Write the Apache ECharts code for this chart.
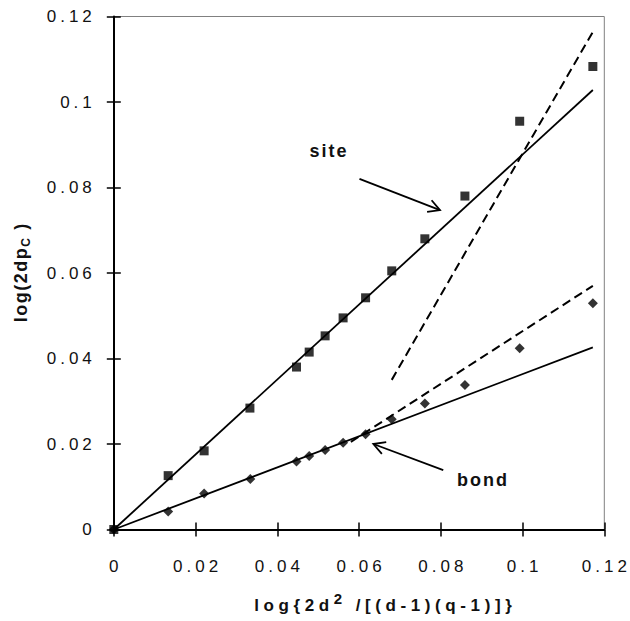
<!DOCTYPE html>
<html>
<head>
<meta charset="utf-8">
<script src="https://cdn.jsdelivr.net/npm/echarts@6/dist/echarts.min.js"></script>
<style>html,body{margin:0;padding:0;background:#fff}#c{width:630px;height:621px}</style>
</head>
<body>
<div id="c"></div>
<script>
// ---- data ----
const xTickLabels = ['0', '0.02', '0.04', '0.06', '0.08', '0.1', '0.12'];
const yTickLabels = ['0', '0.02', '0.04', '0.06', '0.08', '0.1', '0.12'];

const siteX = [0, 0.0133, 0.0221, 0.0333, 0.0447, 0.0478, 0.0517, 0.0561, 0.0616, 0.0680, 0.0761, 0.0859, 0.0993, 0.1172];
const siteY = [0, 0.0126, 0.0184, 0.0284, 0.0380, 0.0415, 0.0453, 0.0495, 0.0542, 0.0605, 0.0680, 0.0780, 0.0955, 0.1083];

const bondX = [0, 0.0133, 0.0221, 0.0334, 0.0447, 0.0478, 0.0517, 0.0561, 0.0616, 0.0680, 0.0761, 0.0859, 0.0993, 0.1172];
const bondY = [0, 0.0042, 0.0084, 0.0118, 0.0159, 0.0172, 0.0186, 0.0203, 0.0223, 0.0258, 0.0295, 0.0338, 0.0424, 0.0529];

const siteFitX = [0, 0.1172];
const siteFitY = [0, 0.1028];
const bondFitX = [0, 0.1172];
const bondFitY = [0, 0.0426];
const siteDashX = [0.0680, 0.1172];
const siteDashY = [0.0350, 0.1164];
const bondDashX = [0.0580, 0.1172];
const bondDashY = [0.0205, 0.0570];

// annotation arrows: tail (x1,y1) -> head (x2,y2), with label text
const arrowLabels = ['site', 'bond'];
const arrowX1 = [0.0601, 0.0806];
const arrowY1 = [0.0820, 0.0139];
const arrowX2 = [0.0798, 0.0635];
const arrowY2 = [0.0747, 0.0200];
const labelX = [0.0524, 0.0901];
const labelY = [0.0885, 0.0116];

// ---- build ----
const zip = (a, b) => a.map((v, i) => [v, b[i]]);
const FAMILY = 'Liberation Sans, Arial, Helvetica, sans-serif';

// letter spacing (tracking) per text, applied to the SVG text nodes after render
const spacing = {};
xTickLabels.concat(yTickLabels).forEach(t => { spacing[t] = 4; });
arrowLabels.forEach(t => { spacing[t] = 2; });

const mctx = document.createElement('canvas').getContext('2d');
function measure(str, size, sp) {
  mctx.font = 'bold ' + size + 'px ' + FAMILY;
  return mctx.measureText(str).width + sp * str.length;
}

// build a tracked, multi-piece title as a graphic group
function trackedTitle(pieces, cx, cy, rotation) {
  let total = 0;
  const w = pieces.map(p => {
    const ww = p.gap != null ? p.gap : measure(p.t, p.size, p.sp);
    total += ww;
    return ww;
  });
  total -= pieces[pieces.length - 1].sp || 0;
  let x = -total / 2;
  const children = [];
  pieces.forEach((p, i) => {
    if (p.t) {
      spacing[p.t] = p.sp;
      children.push({
        type: 'text', x: x, y: p.dy || 0,
        style: {text: p.t, font: 'bold ' + p.size + 'px ' + FAMILY, fill: '#111', align: 'left', verticalAlign: 'middle'}
      });
    }
    x += w[i];
  });
  return {type: 'group', x: cx, y: cy, rotation: rotation || 0, children: children};
}

const xTitle = trackedTitle([
  {t: 'log{2d', size: 17, sp: 4.6},
  {t: '2', size: 15, sp: 4.6, dy: -7},
  {gap: 9},
  {t: '/[(d-1)(q-1)]}', size: 17, sp: 4.6}
], 383, 605, 0);

const yTitle = trackedTitle([
  {t: 'log(2dp', size: 18, sp: 1.5},
  {t: 'C', size: 12, sp: 1.5, dy: 5},
  {gap: 7},
  {t: ')', size: 18, sp: 1.5}
], 21, 273, Math.PI / 2);

const chart = echarts.init(document.getElementById('c'), null, {renderer: 'svg'});

const arrowData = arrowLabels.map((t, i) => [arrowX1[i], arrowY1[i], arrowX2[i], arrowY2[i], labelX[i], labelY[i]]);

const baseAxis = {
  type: 'value', min: 0, max: 0.12, interval: 0.02,
  splitLine: {show: false}
};

const option = {
  backgroundColor: '#fff',
  animation: false,
  grid: {
    left: 113.8, right: 25.7, top: 16.5, bottom: 91.5,
    show: true, borderColor: '#808080', borderWidth: 1, backgroundColor: 'transparent'
  },
  xAxis: [
    Object.assign({}, baseAxis, {
      position: 'bottom',
      axisLine: {show: true, onZero: false, lineStyle: {color: '#000', width: 2}},
      axisTick: {show: true, length: 7, inside: false, lineStyle: {color: '#000', width: 1.5}},
      axisLabel: {
        margin: 28, fontSize: 17, color: '#111', fontFamily: FAMILY,
        formatter: v => xTickLabels[Math.round(v / 0.02)]
      }
    }),
    Object.assign({}, baseAxis, {
      position: 'bottom',
      axisLine: {show: false},
      axisTick: {show: true, length: 7, inside: true, lineStyle: {color: '#000', width: 1.5}},
      axisLabel: {show: false}
    })
  ],
  yAxis: [
    Object.assign({}, baseAxis, {
      position: 'left',
      axisLine: {show: true, onZero: false, lineStyle: {color: '#000', width: 2}},
      axisTick: {show: true, length: 7, inside: false, lineStyle: {color: '#000', width: 1.5}},
      axisLabel: {
        margin: 22, fontSize: 17, color: '#111', fontFamily: FAMILY,
        formatter: v => yTickLabels[Math.round(v / 0.02)]
      }
    }),
    Object.assign({}, baseAxis, {
      position: 'left',
      axisLine: {show: false},
      axisTick: {show: true, length: 7, inside: true, lineStyle: {color: '#000', width: 1.5}},
      axisLabel: {show: false}
    })
  ],
  graphic: [yTitle, xTitle],
  series: [
    {
      type: 'line', name: 'site fit', data: zip(siteFitX, siteFitY),
      symbol: 'none', lineStyle: {color: '#000', width: 1.8}, z: 3
    },
    {
      type: 'line', name: 'bond fit', data: zip(bondFitX, bondFitY),
      symbol: 'none', lineStyle: {color: '#000', width: 1.8}, z: 3
    },
    {
      type: 'line', name: 'site dashed', data: zip(siteDashX, siteDashY),
      symbol: 'none', lineStyle: {color: '#000', width: 2, type: [9, 5]}, z: 3
    },
    {
      type: 'line', name: 'bond dashed', data: zip(bondDashX, bondDashY),
      symbol: 'none', lineStyle: {color: '#000', width: 2, type: [9, 5]}, z: 3
    },
    {
      type: 'scatter', name: 'site', data: zip(siteX, siteY),
      symbol: 'rect', symbolSize: 9, itemStyle: {color: '#000'}, z: 4
    },
    {
      type: 'scatter', name: 'bond', data: zip(bondX, bondY),
      symbol: 'diamond', symbolSize: 10, itemStyle: {color: '#000'}, z: 4
    },
    {
      type: 'custom', name: 'arrows', data: arrowData,
      encode: {x: [0, 2], y: [1, 3]},
      z: 5,
      renderItem: function (params, api) {
        const p1 = api.coord([api.value(0), api.value(1)]);
        const p2 = api.coord([api.value(2), api.value(3)]);
        const lp = api.coord([api.value(4), api.value(5)]);
        const ang = Math.atan2(p2[1] - p1[1], p2[0] - p1[0]);
        const L = 13, a = 0.5;
        const h1 = [p2[0] - L * Math.cos(ang - a), p2[1] - L * Math.sin(ang - a)];
        const h2 = [p2[0] - L * Math.cos(ang + a), p2[1] - L * Math.sin(ang + a)];
        const txt = arrowLabels[params.dataIndex];
        return {
          type: 'group',
          children: [
            {type: 'line', shape: {x1: p1[0], y1: p1[1], x2: p2[0], y2: p2[1]}, style: {stroke: '#000', lineWidth: 1.8}},
            {type: 'polyline', shape: {points: [h1, p2, h2]}, style: {stroke: '#000', lineWidth: 1.8, fill: null}},
            {type: 'text', x: lp[0], y: lp[1], style: {text: txt, font: 'bold 18px ' + FAMILY, fill: '#111', align: 'center', verticalAlign: 'middle'}}
          ]
        };
      }
    }
  ]
};

chart.setOption(option);

function applyTracking() {
  document.querySelectorAll('#c svg text').forEach(el => {
    const t = el.textContent;
    const sp = spacing[t];
    if (sp == null) return;
    el.setAttribute('letter-spacing', sp + 'px');
    const anchor = el.getAttribute('text-anchor') || getComputedStyle(el).textAnchor;
    if (anchor === 'end') el.setAttribute('dx', sp);
    else if (anchor === 'middle') el.setAttribute('dx', sp / 2);
  });
}
applyTracking();
chart.on('finished', applyTracking);
</script>
</body>
</html>
